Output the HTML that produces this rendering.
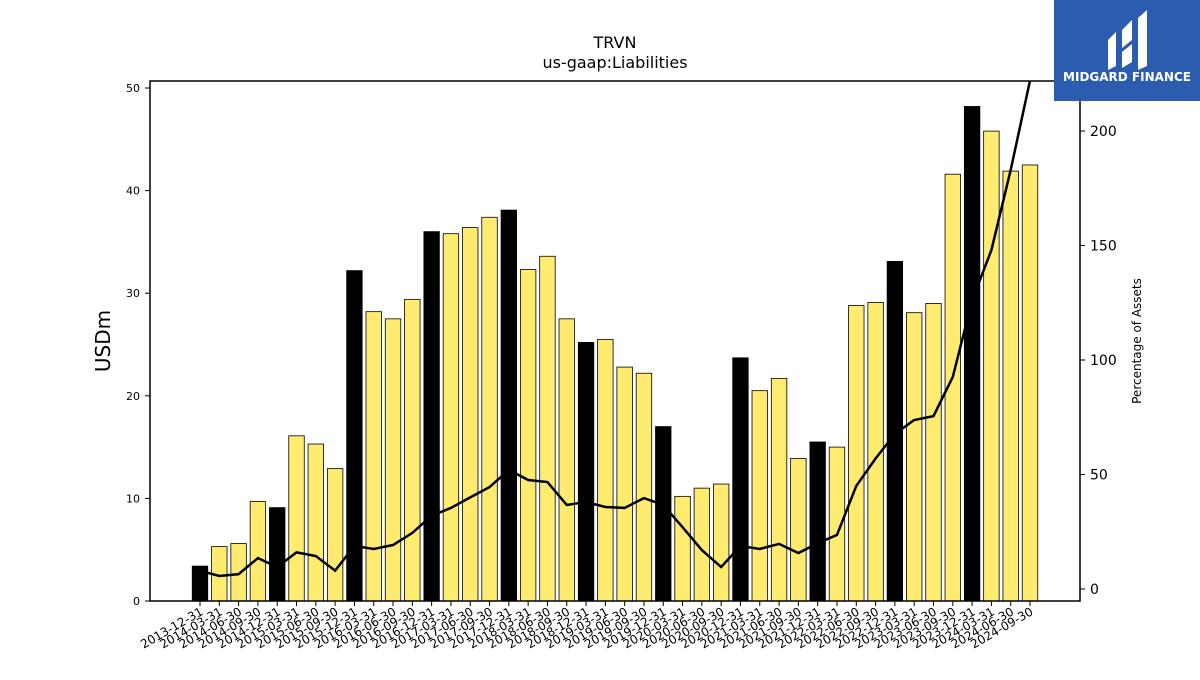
<!DOCTYPE html>
<html><head><meta charset="utf-8"><style>
body{margin:0;background:#fff;}
svg text{font-family:"DejaVu Sans","Liberation Sans",sans-serif;}
</style></head><body>
<svg id="chart" width="1200" height="675" xmlns="http://www.w3.org/2000/svg">
<rect width="1200" height="675" fill="#fff"/>
<text x="615" y="48" text-anchor="middle" font-size="16">TRVN</text>
<text x="615" y="68" text-anchor="middle" font-size="16">us-gaap:Liabilities</text>
<g id="bars"></g>
<g id="line"></g>
<rect x="150" y="81" width="930" height="520" fill="none" stroke="#000" stroke-width="1.5"/>
<g id="axes"></g>
<text transform="translate(110,341) rotate(-90)" text-anchor="middle" font-size="20">USDm</text>
<text transform="translate(1141,341) rotate(-90)" text-anchor="middle" font-size="12">Percentage of Assets</text>
<g>
<rect x="1054" y="0" width="146" height="101" fill="#2b5caf"/>
<path d="M1108 40 L1116 32 L1116 66 L1108 70 Z M1122 30 L1132 20 L1132 40 L1122 48 Z M1122 52 L1132 44 L1132 62 L1122 68 Z M1138 18 L1147 10 L1147 66 L1138 70 Z" fill="#fff"/>
<text x="1127" y="81" text-anchor="middle" font-size="12" font-weight="bold" fill="#fff">MIDGARD FINANCE</text>
</g>
</svg>
<script>
const categories=["2013-12-31","2014-03-31","2014-06-30","2014-09-30","2014-12-31","2015-03-31","2015-06-30","2015-09-30","2015-12-31","2016-03-31","2016-06-30","2016-09-30","2016-12-31","2017-03-31","2017-06-30","2017-09-30","2017-12-31","2018-03-31","2018-06-30","2018-09-30","2018-12-31","2019-03-31","2019-06-30","2019-09-30","2019-12-31","2020-03-31","2020-06-30","2020-09-30","2020-12-31","2021-03-31","2021-06-30","2021-09-30","2021-12-31","2022-03-31","2022-06-30","2022-09-30","2022-12-31","2023-03-31","2023-06-30","2023-09-30","2023-12-31","2024-03-31","2024-06-30","2024-09-30"];
const liabilities=[3.4,5.3,5.6,9.7,9.1,16.1,15.3,12.9,32.2,28.2,27.5,29.4,36.0,35.8,36.4,37.4,38.1,32.3,33.6,27.5,25.2,25.5,22.8,22.2,17.0,10.2,11.0,11.4,23.7,20.5,21.7,13.9,15.5,15.0,28.8,29.1,33.1,28.1,29.0,41.6,48.2,45.8,41.9,42.5];
const pctAssets=[8,5.7,6.5,13.5,9.6,16,14.4,8,18.8,17.5,19.2,24.5,32,35.4,40,44.5,52,47.6,46.7,36.7,38,35.8,35.4,39.7,36.7,27,17,9.6,18.8,17.5,19.7,15.7,20,23.6,45,57,67.7,73.8,75.5,92.6,126,148,183,222];
const leftTicks=[0,10,20,30,40,50];
const rightTicks=[0,50,100,150,200];
const NS="http://www.w3.org/2000/svg";
const x=i=>200+i*(830/43);
const yL=v=>601-v*10.26;
const yR=v=>589-v*2.29;
function mk(t,a,p){const e=document.createElementNS(NS,t);for(const k in a)e.setAttribute(k,a[k]);p.appendChild(e);return e;}
const bars=document.getElementById('bars'),line=document.getElementById('line'),axes=document.getElementById('axes');
const bw=15.5;
liabilities.forEach((v,i)=>{
 const dec=categories[i].slice(5,7)==="12";
 const r=mk('rect',{x:x(i)-bw/2,y:yL(v),width:bw,height:601-yL(v),fill:dec?'#000':'#ffeb70',stroke:'#000','stroke-width':0.8},bars);
 
 
});
const cp=mk('clipPath',{id:'clip'},line);mk('rect',{x:150,y:81,width:930,height:520},cp);
const pl=mk('polyline',{points:pctAssets.map((v,i)=>x(i)+','+yR(v)).join(' '),fill:'none',stroke:'#000','stroke-width':2.5,'clip-path':'url(#clip)'},line);


leftTicks.forEach(v=>{
 mk('line',{x1:145,x2:150,y1:yL(v),y2:yL(v),stroke:'#000'},axes);
 const t=mk('text',{x:140,y:yL(v)+4,'text-anchor':'end','font-size':11},axes);t.textContent=v;
 
 
});
rightTicks.forEach(v=>{
 mk('line',{x1:1080,x2:1085,y1:yR(v),y2:yR(v),stroke:'#000'},axes);
 const t=mk('text',{x:1090,y:yR(v)+5,'font-size':14},axes);t.textContent=v;
 
 
});
categories.forEach((c,i)=>{
 mk('line',{x1:x(i),x2:x(i),y1:601,y2:606,stroke:'#000'},axes);
 const t=mk('text',{'text-anchor':'end','font-size':12,transform:`translate(${x(i)+4},${614}) rotate(-30)`},axes);t.textContent=c;
 
 
});
</script>
</body></html>
